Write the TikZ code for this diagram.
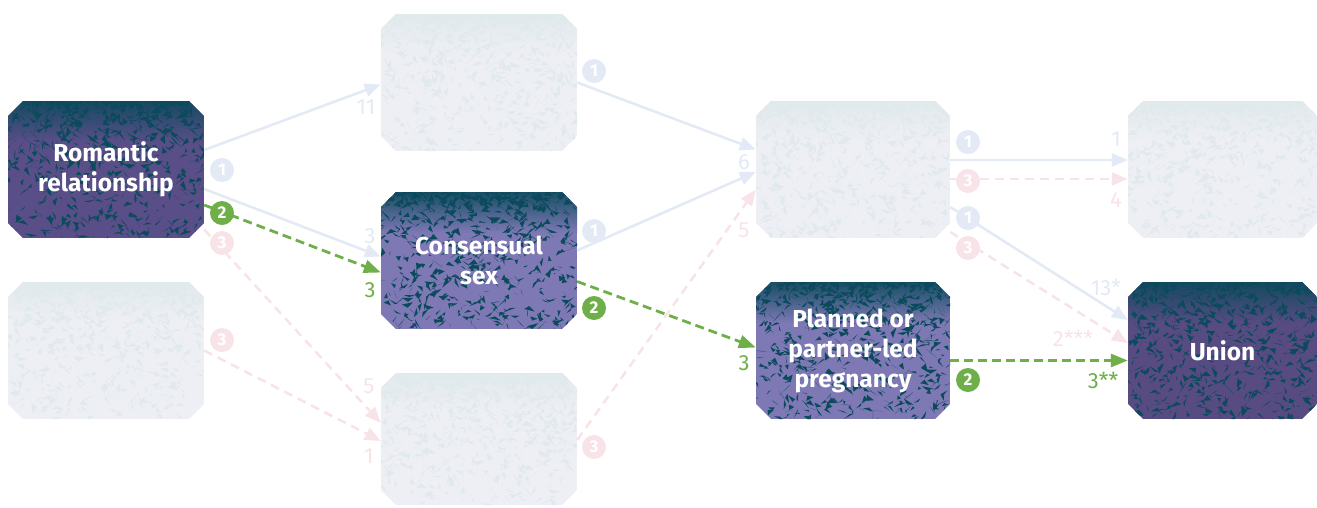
\documentclass[tikz,border=0pt]{standalone}
\usepackage{fontspec}
\setmainfont{Fira Sans}
\usetikzlibrary{arrows.meta,calc}
\definecolor{teal}{HTML}{0B4A5C}
\definecolor{purA}{HTML}{5A4E88}
\definecolor{purB}{HTML}{7E78B4}
\definecolor{purC}{HTML}{574B82}
\definecolor{fadeA}{HTML}{EEEFF4}
\definecolor{fadeB}{HTML}{E0E9EB}
\definecolor{bluec}{HTML}{E3EAF5}
\definecolor{pinkc}{HTML}{F8E4E8}
\definecolor{greenc}{HTML}{6FAF4A}
\tikzset{
  boxtxt/.style={inner sep=0pt, align=center, text=white, font=\bfseries\fontsize{24.5}{30}\selectfont},
  bluearr/.style={draw=bluec, line width=2.6pt, -{Triangle[length=16pt,width=13pt]}},
  pinkarr/.style={draw=pinkc, line width=2.6pt, dash pattern=on 9pt off 6pt, -{Triangle[length=16pt,width=13pt]}},
  greenarr/.style={draw=greenc, line width=2.8pt, dash pattern=on 9pt off 5pt, -{Triangle[length=17pt,width=13pt]}},
  badge/.style={circle, minimum size=24pt, inner sep=0pt, text=white, font=\bfseries\fontsize{17}{17}\selectfont},
  lbl/.style={inner sep=0pt, font=\fontsize{22}{22}\selectfont},
}
% #1 name, #2 cx, #3 cy, #4 w, #5 h, #6 base colour, #7 speck colour, #8 text
\newcommand\mybox[8]{%
  \pgfmathsetmacro\xa{#2-#4/2}\pgfmathsetmacro\xb{#2+#4/2}%
  \pgfmathsetmacro\ya{#3-#5/2}\pgfmathsetmacro\yb{#3+#5/2}%
  \begin{scope}
    \clip (\xa+15,\ya) -- (\xb-15,\ya) -- (\xb,\ya+15) -- (\xb,\yb-15) -- (\xb-15,\yb) -- (\xa+15,\yb) -- (\xa,\yb-15) -- (\xa,\ya+15) -- cycle;
    \fill[#6] (\xa,\ya) rectangle (\xb,\yb);
    \shade[top color=#7, bottom color=#6] (\xa,\ya-5) rectangle (\xb,\ya+0.3*#5);
    \foreach \k in {1,...,700}{%
      \pgfmathsetmacro\rx{\xa+rnd*#4}%
      \pgfmathsetmacro\ry{\ya+(rnd^1.8)*#5}%
      \pgfmathsetmacro\da{rand*7}\pgfmathsetmacro\db{rand*6}%
      \pgfmathsetmacro\dc{rand*7}\pgfmathsetmacro\dd{rand*6}%
      \fill[#7] (\rx,\ry) -- ++(\da,\db) -- ++(\dc,\dd) -- cycle;
    }
  \end{scope}
  \node[boxtxt, minimum width=#4pt, minimum height=#5pt] (#1) at (#2,#3) {#8};
}
\begin{document}
\begin{tikzpicture}[x=1pt,y=-1pt]
\pgfmathsetseed{7}
\useasboundingbox (0,0) rectangle (1317,507);
\begin{scope}
\clip (0,0) rectangle (1317,507);
% boxes
\mybox{rom}{106}{169.5}{196}{137}{purA}{teal}{Romantic\\relationship}
\mybox{cl1}{106}{350.5}{196}{137}{fadeA}{fadeB}{}
\mybox{tl2}{479}{82.5}{196}{137}{fadeA}{fadeB}{}
\mybox{cons}{479}{260.5}{196}{137}{purB}{teal}{Consensual\\sex}
\mybox{bl2}{479}{439}{196}{132}{fadeA}{fadeB}{}
\mybox{tr3}{853}{169.5}{194}{137}{fadeA}{fadeB}{}
\mybox{preg}{853}{350.5}{194}{137}{purB}{teal}{Planned or\\partner-led\\pregnancy}
\mybox{tr4}{1222.5}{169.5}{189}{137}{fadeA}{fadeB}{}
\mybox{union}{1222.5}{350.5}{189}{137}{purC}{teal}{Union}
\end{scope}
% connectors
\draw[bluearr] ($(rom.east)+(0,-19.5)$) -- ($(tl2.west)+(0,2)$);
\draw[bluearr] ($(rom.east)+(0,19.5)$) -- ($(cons.west)+(0,-4)$);
\draw[pinkarr] ($(rom.east)+(0,60)$) -- ($(bl2.west)+(0,-16)$);
\draw[pinkarr] (cl1.east) -- ($(bl2.west)+(0,2)$);
\draw[greenarr] ($(rom.east)+(0,35.5)$) -- ($(cons.west)+(0,12)$);
\draw[bluearr] (tl2.east) -- ($(tr3.west)+(0,-20)$);
\draw[bluearr] ($(cons.east)+(0,-10)$) -- ($(tr3.west)+(0,2.5)$);
\draw[pinkarr] ($(bl2.east)+(0,1)$) -- ($(tr3.west)+(0,20)$);
\draw[greenarr] ($(cons.east)+(0,21)$) -- ($(preg.west)+(0,-3)$);
\draw[bluearr] ($(tr3.east)+(0,-9.5)$) -- ($(tr4.west)+(0,-9.5)$);
\draw[pinkarr] ($(tr3.east)+(0,9.5)$) -- ($(tr4.west)+(0,9.5)$);
\draw[bluearr] ($(tr3.east)+(0,37.5)$) -- ($(union.west)+(0,-30.5)$);
\draw[pinkarr] ($(tr3.east)+(0,62.5)$) -- ($(union.west)+(0,-7.5)$);
\draw[greenarr] ($(preg.east)+(0,10)$) -- ($(union.west)+(0,10)$);
% badges
\node[badge, fill=bluec] (b1) at (222,170) {1};
\node[badge, fill=greenc] (b2) at (222,213) {2};
\node[badge, fill=pinkc] (b3) at (222,243) {3};
\node[badge, fill=pinkc] (b4) at (222,340) {3};
\node[badge, fill=bluec] (b5) at (594,71) {1};
\node[badge, fill=bluec] (b6) at (594,231) {1};
\node[badge, fill=greenc] (b7) at (594,308) {2};
\node[badge, fill=pinkc] (b8) at (594,447) {3};
\node[badge, fill=bluec] (b9) at (968,142) {1};
\node[badge, fill=pinkc] (b10) at (968,181) {3};
\node[badge, fill=bluec] (b11) at (968,218) {1};
\node[badge, fill=pinkc] (b12) at (968,248) {3};
\node[badge, fill=greenc] (b13) at (968,380) {2};
% labels
\node[lbl, text=bluec] (l1) at (366,107) {11};
\node[lbl, text=bluec] (l2) at (370,236) {3};
\node[lbl, text=greenc] (l3) at (370,290) {3};
\node[lbl, text=pinkc] (l4) at (369,386) {5};
\node[lbl, text=pinkc] (l5) at (369,456) {1};
\node[lbl, text=bluec] (l6) at (744,162) {6};
\node[lbl, text=pinkc] (l7) at (744,230) {5};
\node[lbl, text=greenc] (l8) at (744,363) {3};
\node[lbl, text=bluec] (l9) at (1116,139) {1};
\node[lbl, text=pinkc] (l10) at (1116,200) {4};
\node[lbl, text=bluec] (l11) at (1106,287) {13*};
\node[lbl, text=pinkc] (l12) at (1073,338) {2***};
\node[lbl, text=greenc] (l13) at (1103,380) {3**};
\end{tikzpicture}
\end{document}
